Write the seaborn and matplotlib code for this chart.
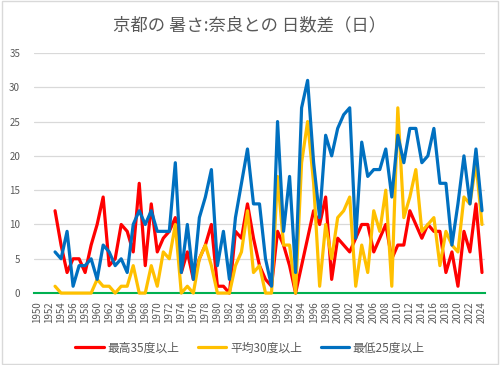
import pandas as pd
import seaborn as sns
import matplotlib.pyplot as plt
from matplotlib.patches import Rectangle

# Kyoto minus Nara, number of days per year
years = list(range(1953, 2025))

max35 = [12, 7, 3, 5, 5, 3, 7, 10, 14, 4, 5, 10, 9, 6, 16, 4, 13, 6, 8, 9,
         11, 3, 6, 2, 5, 7, 10, 1, 1, 0, 9, 8, 13, 8, 4, 2, 1, 9, 7, 4,
         0, 4, 8, 12, 10, 14, 2, 8, 7, 6, 8, 10, 10, 6, 8, 10, 5, 7, 7, 12,
         10, 8, 10, 9, 9, 3, 6, 1, 9, 6, 13, 3]

mean30 = [1, 0, 0, 0, 0, 0, 0, 2, 1, 1, 0, 1, 1, 4, 0, 0, 4, 1, 6, 5,
          10, 0, 1, 0, 5, 7, 4, 0, 0, 0, 4, 6, 12, 3, 4, 0, 0, 17, 7, 7,
          0, 19, 25, 16, 1, 10, 5, 11, 12, 14, 1, 7, 3, 12, 9, 15, 1, 27, 11, 14,
          18, 9, 10, 11, 4, 9, 7, 6, 14, 13, 19, 10]

min25 = [6, 5, 9, 1, 4, 4, 5, 2, 7, 6, 4, 5, 3, 10, 12, 10, 12, 9, 9, 9,
         19, 3, 10, 2, 11, 14, 18, 4, 9, 2, 11, 16, 21, 13, 13, 5, 1, 25, 9, 17,
         3, 27, 31, 19, 11, 23, 20, 24, 26, 27, 8, 22, 17, 18, 18, 21, 14, 23, 19, 24,
         24, 19, 20, 24, 16, 16, 7, 13, 20, 13, 21, 12]

series_names = ['最高35度以上', '平均30度以上', '最低25度以上']
series_colors = ['#FF0000', '#FFC000', '#0070C0']

df = pd.DataFrame({'year': years, series_names[0]: max35,
                   series_names[1]: mean30, series_names[2]: min25})
long = df.melt(id_vars='year', var_name='series', value_name='days')

sns.set_style('white')
plt.rcParams['font.family'] = ['Noto Sans CJK JP', 'DejaVu Sans']

fig = plt.figure(figsize=(5, 3.65), dpi=100)
ax = fig.add_axes([0.068, 0.197, 0.902, 0.658])

sns.lineplot(data=long, x='year', y='days', hue='series', hue_order=series_names,
             palette=series_colors, linewidth=2.3, ax=ax, clip_on=False, zorder=3)

ax.set_xlim(1949.5, 2024.5)
ax.set_ylim(0, 35)
ax.set_yticks(range(0, 36, 5))
ax.yaxis.grid(True, color='#D9D9D9', linewidth=0.9)
ax.set_axisbelow(True)
ax.set_xlabel('')
ax.set_ylabel('')

# year labels every 2 years, green tick marks between categories
ax.set_xticks(list(range(1950, 2025, 2)))
ax.set_xticklabels([str(y) for y in range(1950, 2025, 2)], rotation=90)
ax.set_xticks([y - 0.5 for y in range(1950, 2025, 2)], minor=True)
ax.tick_params(axis='x', which='major', length=0, pad=6, labelsize=7, labelcolor='#595959')
ax.tick_params(axis='x', which='minor', length=6, width=1.2, direction='inout', color='#00B050')
ax.tick_params(axis='y', length=0, pad=10, labelsize=7, labelcolor='#595959')

for s in ['left', 'right', 'top']:
    ax.spines[s].set_visible(False)
ax.spines['bottom'].set_color('#00B050')
ax.spines['bottom'].set_linewidth(1.5)

fig.text(0.5, 1 - 25 / 365, '京都の 暑さ:奈良との 日数差（日）', fontsize=12.5,
         color='#595959', ha='center', va='center')

handles, labels = ax.get_legend_handles_labels()
ax.get_legend().remove()
fig.legend(handles, labels, loc='center', bbox_to_anchor=(0.5, 1 - 348 / 365), ncol=3,
           frameon=False, fontsize=8.5, handlelength=2.4, columnspacing=1.6,
           handletextpad=0.3, labelcolor='#595959')

fig.patches.append(Rectangle((0.004, 0.004), 0.992, 0.992, transform=fig.transFigure,
                             fill=False, edgecolor='#D9D9D9', linewidth=1))

fig.savefig('out.png', dpi=100)
